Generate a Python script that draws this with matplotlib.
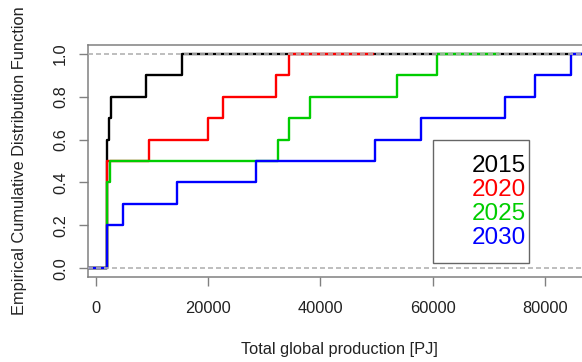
import numpy as np
import matplotlib
matplotlib.use('Agg')
import matplotlib.pyplot as plt
from matplotlib.patches import Rectangle

plt.rcParams['font.family'] = ['Liberation Sans', 'DejaVu Sans']

# samples per scenario year
years = ['2015', '2020', '2025', '2030']
colors = ['black', '#FF0000', '#00CD00', '#0000FF']
prod_2015 = [2000, 2000, 2000, 2000, 2000, 2000, 2450, 2700, 8900, 15300]
prod_2020 = [2050, 2050, 2050, 2050, 2050, 9550, 20050, 22700, 32100, 34400]
prod_2025 = [2050, 2050, 2050, 2050, 2600, 32500, 34450, 38150, 53700, 60800]
prod_2030 = [2050, 2050, 4800, 14400, 28550, 49700, 57850, 72870, 78300, 84700]
samples = [prod_2015, prod_2020, prod_2025, prod_2030]

xticks = [0, 20000, 40000, 60000, 80000]
yticks = [0.0, 0.2, 0.4, 0.6, 0.8, 1.0]

W, H = 582, 362
fig = plt.figure(figsize=(W / 100, H / 100), dpi=100)

allv = np.concatenate(samples)
lo, hi = allv.min(), allv.max()
xlim = (lo - 0.04 * (hi - lo), hi + 0.04 * (hi - lo))

# axes box: left edge at 88px, right edge falls just outside the image
left_px, top_px, bot_px = 88.35, 45, 277
ax = fig.add_axes([left_px / W, (H - bot_px) / H, 501.6 / W, (bot_px - top_px) / H])
ax.set_xlim(*xlim)
ax.set_ylim(-0.04, 1.04)


def ecdf_xy(vals, first):
    v = np.sort(np.asarray(vals, dtype=float))
    knots = np.unique(v)
    cum = np.array([np.mean(v <= k) for k in knots])
    if len(knots) > 1:
        dr = max(0.08 * (knots[-1] - knots[0]), np.median(np.diff(knots)))
    else:
        dr = abs(knots[0]) / 16
    x0 = knots[0] - 2 * dr
    x1 = xlim[1] + dr if first else knots[-1] + 2 * dr
    xs = np.concatenate([[x0], knots, [x1]])
    ys = np.concatenate([[0], cum, [cum[-1]]])
    return xs, ys


for i, (vals, c) in enumerate(zip(samples, colors)):
    xs, ys = ecdf_xy(vals, i == 0)
    ax.step(xs, ys, where='post', color=c, lw=1.7, zorder=2 + i * 0.1)

for h in (0, 1):
    ax.axhline(h, color='#B3B3B3', lw=1.2, ls=(0, (3, 1.8)), zorder=3)

for s in ax.spines.values():
    s.set_color('#808080')
    s.set_linewidth(1.1)

ax.set_xticks(xticks)
ax.set_xticklabels([str(t) for t in xticks])
ax.set_yticks(yticks)
ax.set_yticklabels(['%.1f' % t for t in yticks])
ax.tick_params(axis='both', colors='#808080', labelcolor='#222222',
               labelsize=11.8, length=6.2, width=1.0)
ax.tick_params(axis='x', pad=11)
ax.tick_params(axis='y', pad=8.5)
for lab in ax.get_yticklabels():
    lab.set_rotation(90)
    lab.set_va('center')

ax.set_xlabel('Total global production [PJ]', fontsize=11.8, color='#222222')
ax.set_ylabel('Empirical Cumulative Distribution Function', fontsize=11.8,
              color='#222222')
ax.xaxis.set_label_coords((339.5 - left_px) / 501.6, (bot_px - 342) / (bot_px - top_px))
ax.yaxis.set_label_coords((27 - left_px) / 501.6, (bot_px - 161) / (bot_px - top_px))

# legend box (R style, text only)
fig.add_artist(Rectangle((432.7 / W, (H - 262.7) / H), (529.3 - 432.7) / W,
                         (262.7 - 140) / H, transform=fig.transFigure,
                         fill=False, edgecolor='#666666', lw=1.0))
row_y = [166, 189.5, 213.5, 237.5]
for yr, c, ry in zip(years, colors, row_y):
    fig.text(526 / W, (H - ry) / H, yr, color=c, fontsize=17.5,
             ha='right', va='center')

fig.savefig('out.png', dpi=100)
